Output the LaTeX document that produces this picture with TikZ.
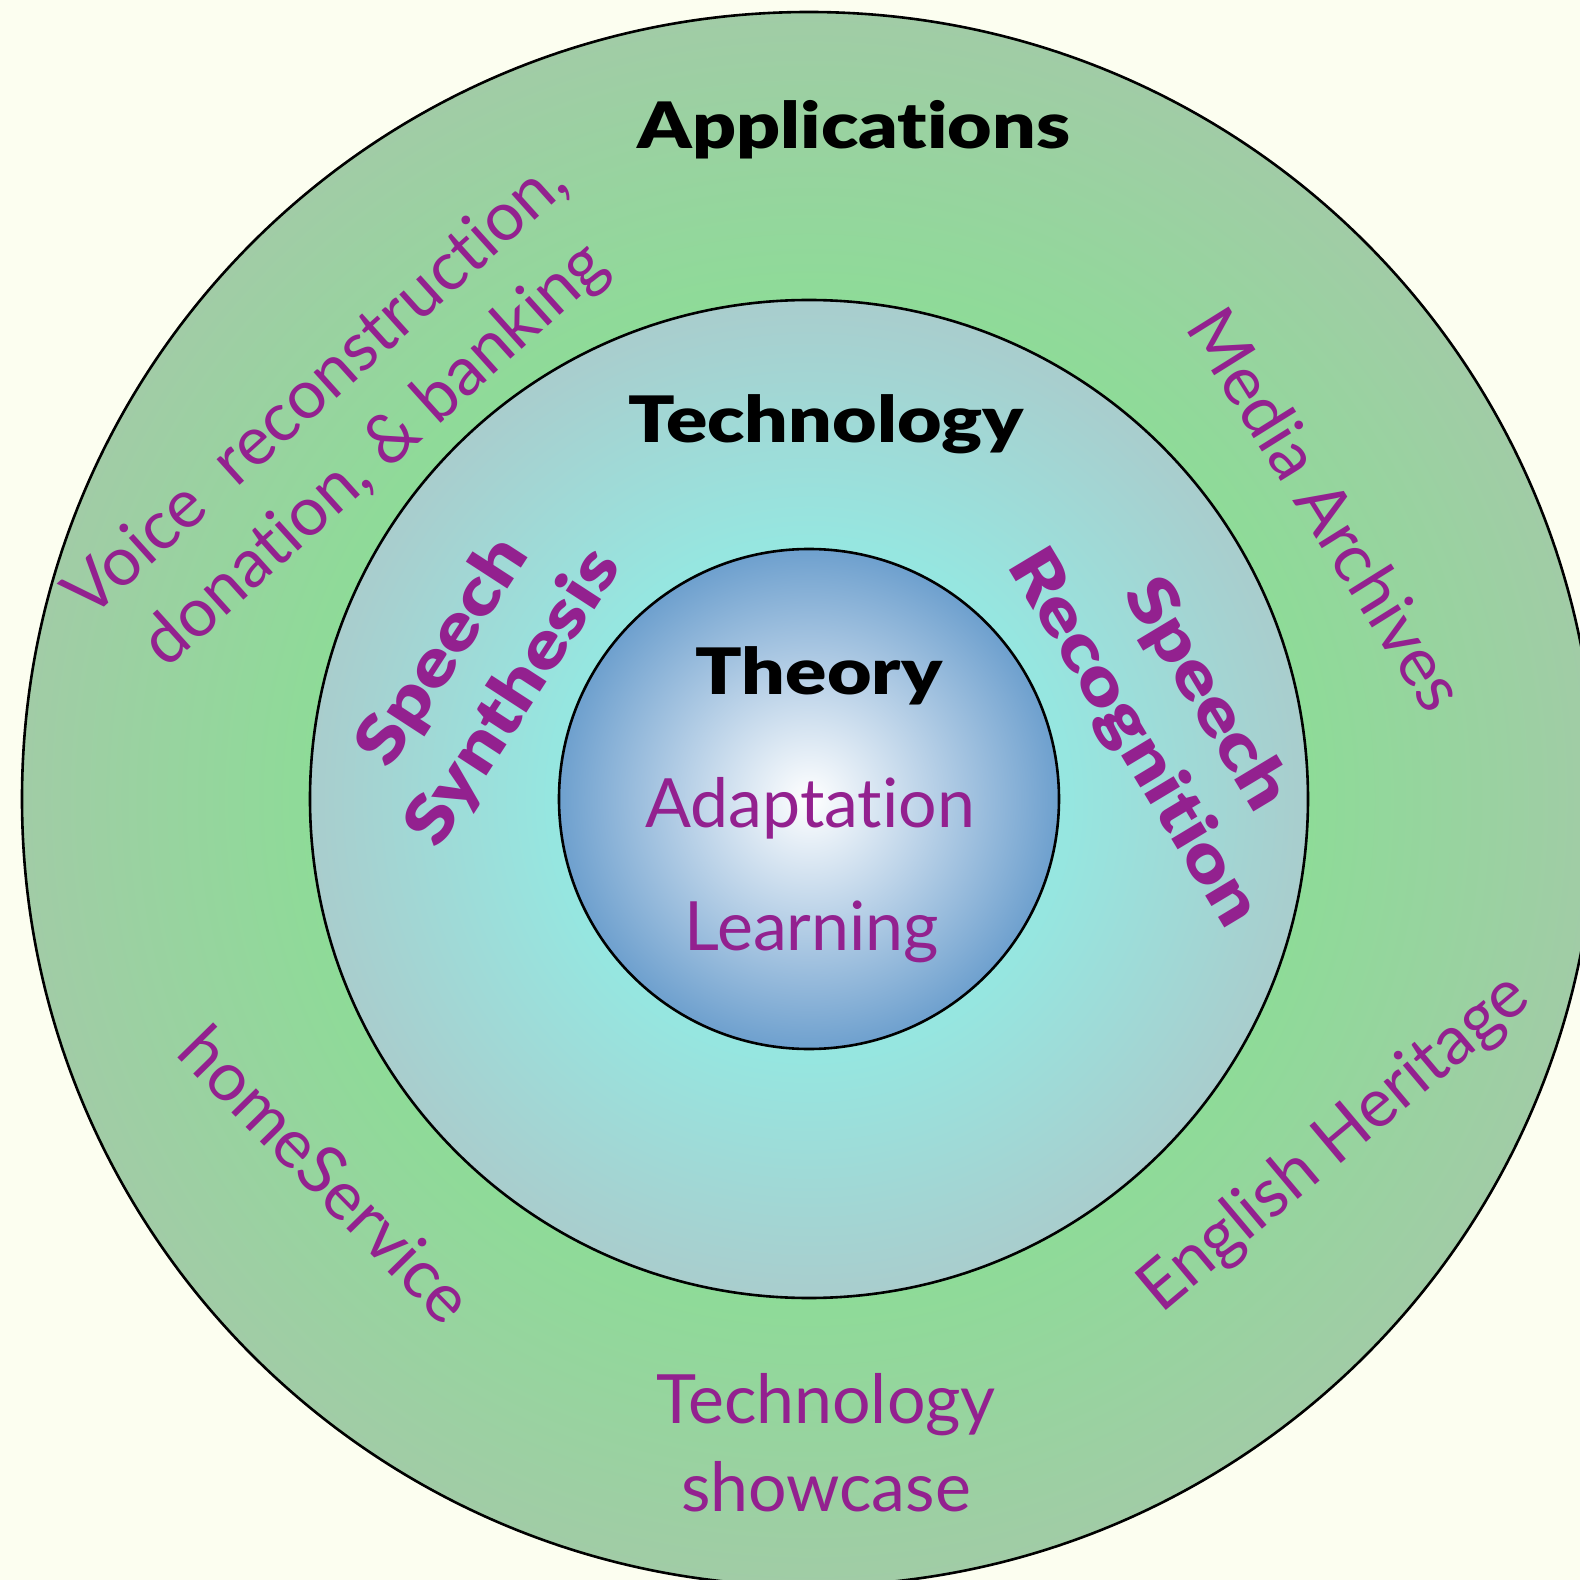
\documentclass[tikz,border=0pt]{standalone}
\usepackage{fontspec}
\setmainfont{Lato}[Ligatures=NoCommon]
\newfontfamily\heavyfont{Lato Black}[Ligatures=NoCommon, FakeStretch=1.2]
\usetikzlibrary{positioning}

\definecolor{bgcream}{RGB}{252,254,240}
\definecolor{ringout}{RGB}{161,204,166}
\definecolor{ringin}{RGB}{142,219,152}
\definecolor{midout}{RGB}{169,205,205}
\definecolor{midin}{RGB}{150,230,224}
\definecolor{coreblue}{RGB}{110,160,206}
\definecolor{labpurple}{RGB}{147,33,143}

% radial fills of the three rings
\pgfdeclareradialshading{appring}{\pgfpoint{0bp}{0bp}}{color(0bp)=(ringin); color(15.8bp)=(ringin); color(25bp)=(ringout); color(50bp)=(ringout)}
\pgfdeclareradialshading{techring}{\pgfpoint{0bp}{0bp}}{color(0bp)=(midin); color(13bp)=(midin); color(25bp)=(midout); color(50bp)=(midout)}
\pgfdeclareradialshading{theoryball}{\pgfpoint{0bp}{0bp}}{color(0bp)=(white); color(25bp)=(coreblue); color(50bp)=(coreblue)}

\tikzset{
  ringline/.style={draw=black, line width=2.6pt},
  heading/.style={font=\heavyfont\fontsize{64}{64}\selectfont, text=black, inner sep=0pt, anchor=base},
  topic/.style={font=\fontsize{68}{88}\selectfont, text=labpurple, inner sep=0pt, align=center},
  field/.style={font=\heavyfont\fontsize{66}{84}\selectfont, text=labpurple, inner sep=0pt, align=center}
}

\begin{document}
\begin{tikzpicture}[x=1pt, y=1pt]
  \def\Rout{787pt};
  \def\Rmid{499pt};
  \def\Rin{250pt};
         \fill[bgcream] (-809, -781) rectangle (771, 799);
         \useasboundingbox (-809, -781) rectangle (771, 799);
         \clip (-809, -781) rectangle (771, 799);

         \shade[shading=appring, ringline] (0, 0) circle (\Rout);     % Applications
         \shade[shading=techring, ringline] (0, 0) circle (\Rmid);    % Technology
         \shade[shading=theoryball, ringline] (0, 0) circle (\Rin);   % Theory

        \node[heading] (apps) at (45, 650)     {Applications};
        \node[heading] (tech) at (17, 356)     {Technology};
        \node[heading] (theory) at (10, 105)   {Theory};

        \node[topic, anchor=base] (adapt) at (1, -28)    {Adaptation};
        \node[topic, anchor=base] (learn) at (3, -151)   {Learning};

        \node[field, rotate=57] (synth) at (-330, 124)   {Speech\\Synthesis};
        \node[field, rotate=-59] (recog) at (360, 82)    {Speech\\Recognition};

        \node[topic, rotate=42] (voice) at (-462, 376)   {Voice\ \ reconstruction,\\donation, \& banking};
        \node[topic, rotate=-58] (media) at (518, 290)   {Media Archives};
        \node[topic, rotate=40] (heritage) at (526, -345) {English Heritage};
        \node[topic, rotate=-45.5] (homesvc) at (-482, -375) {homeService};
        \node[topic, anchor=base] (showcase) at (17, -712) {Technology\\showcase};

\end{tikzpicture}
\end{document}
